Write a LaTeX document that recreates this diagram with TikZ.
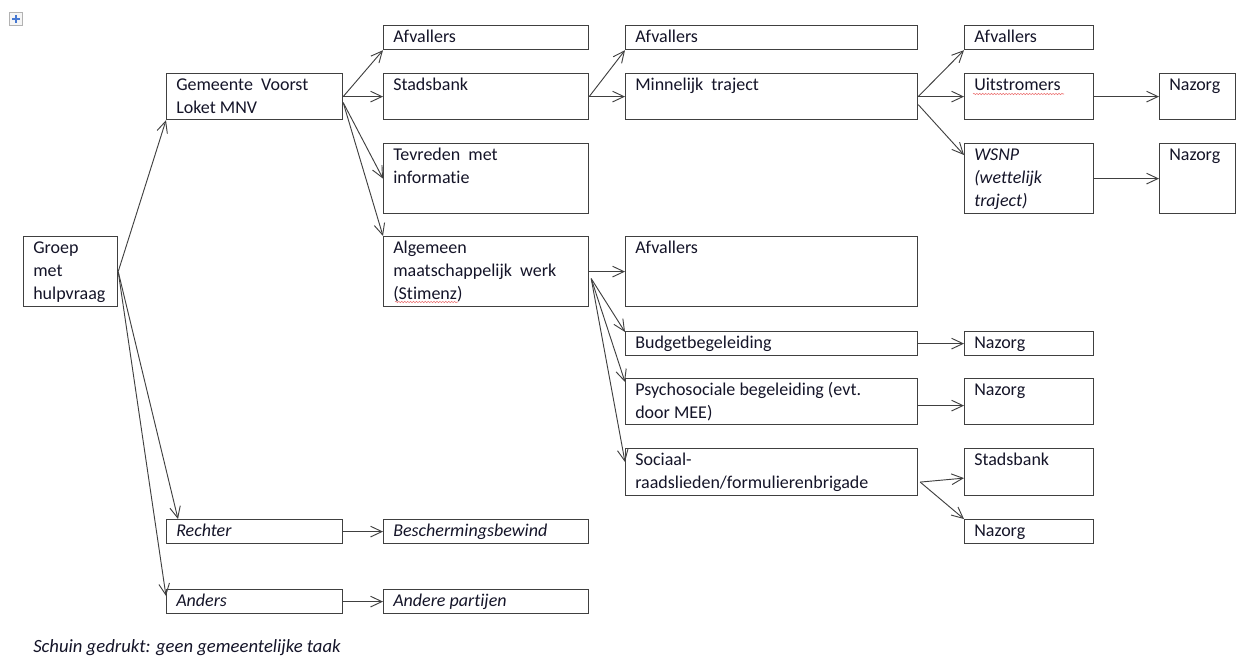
\documentclass[tikz,border=0pt]{standalone}
\usepackage{fontspec}
\setmainfont{Carlito}[Ligatures=NoCommon]
\usetikzlibrary{arrows.meta,calc,decorations.pathmorphing}

\definecolor{boxline}{RGB}{64,64,64}
\definecolor{inkblue}{RGB}{20,20,40}
\definecolor{spellred}{RGB}{235,110,110}
\definecolor{handleblue}{RGB}{70,120,210}
\newcommand{\topstrut}{\rule{0pt}{13.1pt}}
\newcommand{\wsp}{\hspace{0.45em}}

\begin{document}
\begin{tikzpicture}[x=0.75pt, y=-0.75pt,
    boxsize/.style 2 args={minimum width=#1*0.75pt, minimum height=#2*0.75pt},
    box/.style={draw=boxline, line width=0.9pt, rectangle, anchor=north west, inner sep=0pt},
    txt/.style={anchor=north west, align=left, inner xsep=7.5pt, inner ysep=0pt, text=inkblue,
        font=\fontsize{13.5}{17.25}\selectfont},
    itxt/.style={txt, font=\fontsize{13.5}{17.25}\selectfont\itshape},
    arr/.style={draw=boxline, line width=0.7pt, -{Straight Barb[length=8.5pt, width=8pt]}},
    wavy/.style={draw=spellred, line width=0.4pt, decorate,
        decoration={snake, amplitude=0.5pt, segment length=2.2pt}}]
    \useasboundingbox (0,0) rectangle (1236,656);

    % Table handle in the top left corner.
    \node[draw=gray!60, fill=gray!8, line width=0.5pt, boxsize={13}{13}, inner sep=0pt] (handle) at (16,19) {};
    \draw[handleblue, line width=0.8pt] ($(handle.center)+(-4,0)$) -- ($(handle.center)+(4,0)$)
        ($(handle.center)+(0,-4)$) -- ($(handle.center)+(0,4)$);

    % Start and first column.
    \node[box, boxsize={94}{70}] (groep) at (23,236) {};
    \node[txt] (groep-t) at (groep.north west) {\topstrut Groep\\met\\hulpvraag};
    \node[box, boxsize={176}{46}] (gem) at (166,73) {};
    \node[txt] (gem-t) at (gem.north west) {\topstrut Gemeente\wsp Voorst\\Loket MNV};
    \node[box, boxsize={176}{24}] (rech) at (166,519) {};
    \node[itxt] (rech-t) at (rech.north west) {\topstrut Rechter};
    \node[box, boxsize={176}{24}] (anders) at (166,589) {};
    \node[itxt] (anders-t) at (anders.north west) {\topstrut Anders};

    % Second column.
    \node[box, boxsize={205}{24}] (afv1) at (383,25) {};
    \node[txt] (afv1-t) at (afv1.north west) {\topstrut Afvallers};
    \node[box, boxsize={205}{46}] (stad) at (383,73) {};
    \node[txt] (stad-t) at (stad.north west) {\topstrut Stadsbank};
    \node[box, boxsize={205}{70}] (tev) at (383,143) {};
    \node[txt] (tev-t) at (tev.north west) {\topstrut Tevreden\wsp met\\informatie};
    \node[box, boxsize={205}{70}] (alg) at (383,236) {};
    \node[txt] (alg-t) at (alg.north west) {\topstrut Algemeen\\maatschappelijk\wsp werk\\(Stimenz)};
    \node[box, boxsize={205}{24}] (besch) at (383,519) {};
    \node[itxt] (besch-t) at (besch.north west) {\topstrut Beschermingsbewind};
    \node[box, boxsize={205}{24}] (andp) at (383,589) {};
    \node[itxt] (andp-t) at (andp.north west) {\topstrut Andere partijen};

    % Third column.
    \node[box, boxsize={292}{24}] (afv2) at (625,25) {};
    \node[txt] (afv2-t) at (afv2.north west) {\topstrut Afvallers};
    \node[box, boxsize={292}{46}] (minn) at (625,73) {};
    \node[txt] (minn-t) at (minn.north west) {\topstrut Minnelijk\wsp traject};
    \node[box, boxsize={292}{70}] (afv4) at (625,236) {};
    \node[txt] (afv4-t) at (afv4.north west) {\topstrut Afvallers};
    \node[box, boxsize={292}{24}] (bud) at (625,331) {};
    \node[txt] (bud-t) at (bud.north west) {\topstrut Budgetbegeleiding};
    \node[box, boxsize={292}{46}] (psy) at (625,378) {};
    \node[txt] (psy-t) at (psy.north west) {\topstrut Psychosociale begeleiding (evt.\\door MEE)};
    \node[box, boxsize={292}{47}] (soc) at (625,448) {};
    \node[txt] (soc-t) at (soc.north west) {\topstrut Sociaal-\\raadslieden/formulierenbrigade};

    % Fourth column.
    \node[box, boxsize={129}{24}] (afv3) at (964,25) {};
    \node[txt] (afv3-t) at (afv3.north west) {\topstrut Afvallers};
    \node[box, boxsize={129}{46}] (uit) at (964,73) {};
    \node[txt] (uit-t) at (uit.north west) {\topstrut Uitstromers};
    \node[box, boxsize={129}{70}] (wsnp) at (964,143) {};
    \node[itxt] (wsnp-t) at (wsnp.north west) {\topstrut WSNP\\(wettelijk\\traject)};
    \node[box, boxsize={129}{24}] (nz3) at (964,331) {};
    \node[txt] (nz3-t) at (nz3.north west) {\topstrut Nazorg};
    \node[box, boxsize={129}{46}] (nz4) at (964,378) {};
    \node[txt] (nz4-t) at (nz4.north west) {\topstrut Nazorg};
    \node[box, boxsize={129}{47}] (stad2) at (964,448) {};
    \node[txt] (stad2-t) at (stad2.north west) {\topstrut Stadsbank};
    \node[box, boxsize={129}{24}] (nz6) at (964,519) {};
    \node[txt] (nz6-t) at (nz6.north west) {\topstrut Nazorg};

    % Fifth column.
    \node[box, boxsize={76}{46}] (naz1) at (1159,73) {};
    \node[txt] (naz1-t) at (naz1.north west) {\topstrut Nazorg};
    \node[box, boxsize={76}{70}] (naz2) at (1159,143) {};
    \node[txt] (naz2-t) at (naz2.north west) {\topstrut Nazorg};

    % Spelling marks under two words.
    \draw[wavy] ($(uit.north west)+(9,21)$) -- ($(uit.north west)+(100,21)$);
    \draw[wavy] ($(alg.north west)+(12,66)$) -- ($(alg.north west)+(75,66)$);

    % Arrows out of the start box.
    \draw[arr] (groep.east) -- (gem.south west);
    \draw[arr] (groep.east) -- ($(rech.north west)+(12,0)$);
    \draw[arr] (groep.east) -- ($(anders.north west)+(0,7)$);

    % Arrows out of Gemeente Voorst.
    \draw[arr] (gem.east) -- (afv1.south west);
    \draw[arr] (gem.east) -- (stad.west);
    \draw[arr] ($(gem.east)+(0,6)$) -- (tev.west);
    \draw[arr] ($(gem.east)+(0,6)$) -- (alg.north west);

    % Arrows out of Stadsbank and Minnelijk traject.
    \draw[arr] (stad.east) -- (afv2.south west);
    \draw[arr] (stad.east) -- (minn.west);
    \draw[arr] (minn.east) -- (afv3.south west);
    \draw[arr] (minn.east) -- (uit.west);
    \draw[arr] ($(minn.east)+(0,8)$) -- ($(wsnp.north west)+(0,12)$);

    % Arrows out of Algemeen maatschappelijk werk.
    \draw[arr] (alg.east) -- (afv4.west);
    \foreach \t/\dy in {bud/1, psy/4, soc/14} {
        \draw[arr] ($(alg.east)+(2,7)$) -- ($(\t.north west)+(0,\dy)$);
    }

    % Straight arrows to the right.
    \foreach \a/\b in {uit/naz1, wsnp/naz2, bud/nz3, rech/besch, anders/andp} {
        \draw[arr] (\a.east) -- (\b.west);
    }
    \draw[arr] ($(psy.east)+(0,4)$) -- ($(nz4.west)+(0,4)$);
    \draw[arr] ($(soc.east)+(2,10)$) -- ($(stad2.west)+(0,6)$);
    \draw[arr] ($(soc.east)+(2,10)$) -- (nz6.north west);

    % Note below the diagram.
    \node[anchor=base west, inner sep=0pt, text=inkblue, font=\fontsize{14}{17.25}\selectfont\itshape] (note) at (33,652)
        {Schuin gedrukt: geen gemeentelijke taak};
\end{tikzpicture}
\end{document}
